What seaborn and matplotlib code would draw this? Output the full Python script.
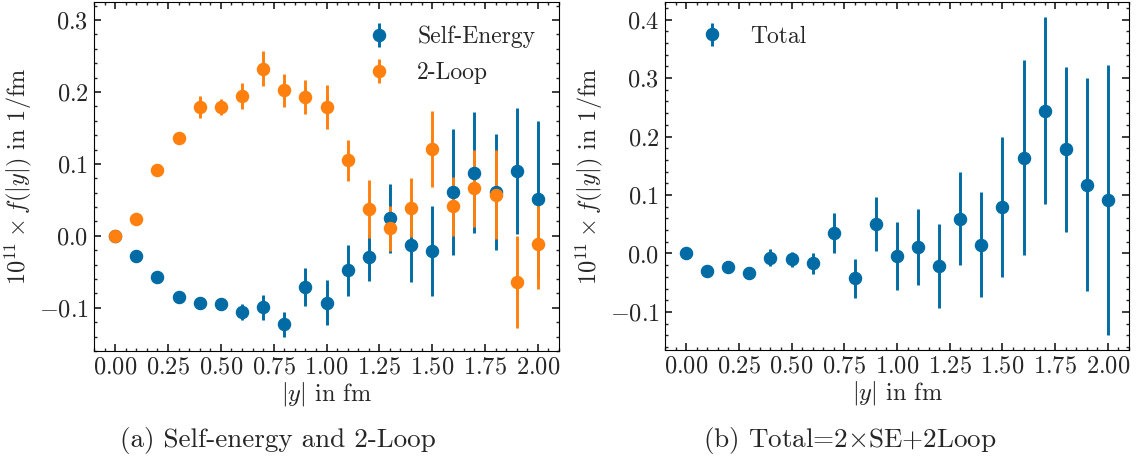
import numpy as np
import pandas as pd
import matplotlib
matplotlib.use("Agg")
import matplotlib.pyplot as plt
from matplotlib.ticker import MultipleLocator, FuncFormatter
import seaborn as sns

# ---------------- data ----------------
y_fm = [0.0, 0.1, 0.2, 0.3, 0.4, 0.5, 0.6, 0.7, 0.8, 0.9, 1.0,
        1.1, 1.2, 1.3, 1.4, 1.5, 1.6, 1.7, 1.8, 1.9, 2.0]

se_val = [0.0, -0.028, -0.057, -0.085, -0.093, -0.095, -0.106, -0.099, -0.123, -0.071, -0.093,
          -0.048, -0.030, 0.0245, -0.0125, -0.021, 0.061, 0.088, 0.061, 0.090, 0.051]
se_err = [0.0, 0.0, 0.0, 0.0, 0.0, 0.0, 0.0115, 0.0175, 0.017, 0.027, 0.031,
          0.035, 0.033, 0.048, 0.051, 0.063, 0.0875, 0.084, 0.080, 0.0875, 0.109]

loop_val = [0.0, 0.0236, 0.0917, 0.1366, 0.179, 0.1796, 0.194, 0.2324, 0.2023, 0.193, 0.179,
            0.105, 0.0375, 0.0106, 0.0394, 0.121, 0.041, 0.066, 0.0574, -0.0635, -0.011]
loop_err = [0.0, 0.0, 0.0, 0.0, 0.015, 0.011, 0.0178, 0.024, 0.023, 0.024, 0.031,
            0.0285, 0.040, 0.031, 0.041, 0.053, 0.0405, 0.054, 0.062, 0.064, 0.0625]

tot_val = [0.0, -0.030, -0.0227, -0.034, -0.0074, -0.0102, -0.017, 0.0352, -0.0426, 0.0511, -0.0046,
           0.0107, -0.0216, 0.0596, 0.0153, 0.0795, 0.164, 0.244, 0.178, 0.1175, 0.092]
tot_err = [0.0, 0.0, 0.0, 0.0, 0.0148, 0.0122, 0.0185, 0.0347, 0.0327, 0.046, 0.058,
           0.065, 0.072, 0.079, 0.089, 0.119, 0.1667, 0.160, 0.141, 0.182, 0.2306]

xticks = [0.00, 0.25, 0.50, 0.75, 1.00, 1.25, 1.50, 1.75, 2.00]

df_left = pd.DataFrame({"y": y_fm, "se": se_val, "se_err": se_err,
                        "loop": loop_val, "loop_err": loop_err})
df_right = pd.DataFrame({"y": y_fm, "tot": tot_val, "tot_err": tot_err})

# ---------------- style ----------------
sns.set_theme(style="ticks")
FS = 17.5
plt.rcParams.update({
    "font.family": "serif",
    "font.serif": ["cmr10", "DejaVu Serif"],
    "mathtext.fontset": "cm",
    "axes.formatter.use_mathtext": True,
    "axes.unicode_minus": True,
    "font.size": FS,
    "axes.labelsize": FS,
    "xtick.labelsize": FS,
    "ytick.labelsize": FS,
    "legend.fontsize": 17,
    "axes.linewidth": 0.8,
    "axes.edgecolor": "black",
    "xtick.direction": "in",
    "ytick.direction": "in",
    "xtick.top": True,
    "ytick.right": True,
    "xtick.major.size": 5,
    "ytick.major.size": 5,
    "xtick.minor.size": 2.5,
    "ytick.minor.size": 2.5,
    "xtick.minor.visible": True,
    "ytick.minor.visible": True,
})

blue = "#006BA4"
orange = "#FF800E"

fig = plt.figure(figsize=(11.4, 4.66), dpi=100)
axL = fig.add_axes([94 / 1140, 1 - 351 / 466, 465 / 1140, 349 / 466])
axR = fig.add_axes([665 / 1140, 1 - 350 / 466, 464 / 1140, 348 / 466])

ebkw = dict(fmt="o", markersize=8.7, elinewidth=2.1, capsize=0)

axL.errorbar(df_left["y"], df_left["se"], yerr=df_left["se_err"], color=blue,
             label="Self-Energy", **ebkw)
axL.errorbar(df_left["y"], df_left["loop"], yerr=df_left["loop_err"], color=orange,
             label="2-Loop", **ebkw)
axR.errorbar(df_right["y"], df_right["tot"], yerr=df_right["tot_err"], color=blue,
             label="Total", **ebkw)

for ax in (axL, axR):
    ax.set_xlim(-0.1, 2.1)
    ax.set_xticks(xticks)
    ax.xaxis.set_minor_locator(MultipleLocator(0.05))
    ax.yaxis.set_major_locator(MultipleLocator(0.1))
    ax.yaxis.set_minor_locator(MultipleLocator(0.02))
    ax.set_xlabel(r"$|y|$ in fm", labelpad=1)
    ax.set_ylabel(r"$10^{11}\times f(|y|)$ in 1/fm", labelpad=3)
    ax.tick_params(which="both", top=True, right=True, direction="in")
    ax.tick_params(which="major", pad=4)
    ax.xaxis.set_major_formatter(FuncFormatter(lambda v, p: f"${v:.2f}$"))
    ax.yaxis.set_major_formatter(FuncFormatter(lambda v, p: f"${v:.1f}$"))
    for s in ax.spines.values():
        s.set_visible(True)
        s.set_color("black")

axL.set_ylim(-0.16, 0.325)
axR.set_ylim(-0.165, 0.43)

axL.legend(loc="upper right", frameon=False, handletextpad=0.6, borderaxespad=0.6,
           labelspacing=0.6)
axR.legend(loc="upper left", frameon=False, handletextpad=0.6, borderaxespad=0.6)

fig.text(278 / 1140, 1 - 441 / 466, "(a) Self-energy and 2-Loop", ha="center", va="center", fontsize=19.5)
fig.text(850 / 1140, 1 - 441 / 466, r"(b) Total=2$\times$SE+2Loop", ha="center", va="center", fontsize=19.5)

fig.savefig("out.png", dpi=100)
